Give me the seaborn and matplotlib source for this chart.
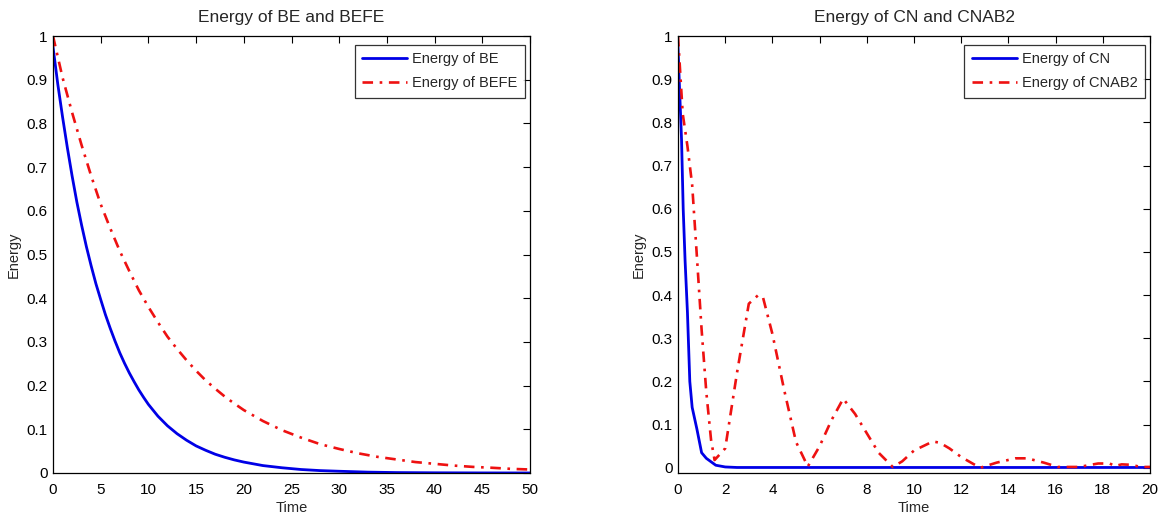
import matplotlib
matplotlib.use("Agg")
import matplotlib.pyplot as plt
import seaborn as sns
import pandas as pd

# Backward Euler vs. BE with forward extrapolation
be_time = [0, 0.5, 1, 1.5, 2, 2.5, 3, 3.5, 4, 4.5, 5, 5.5, 6, 6.5, 7, 7.5, 8, 8.5, 9,
           9.5, 10, 11, 12, 13, 14, 15, 16, 17, 18, 19, 20,
           22, 24, 26, 28, 30, 33, 36, 40, 45, 50]
be_energy = [0.975, 0.89, 0.815, 0.745, 0.68, 0.62, 0.567, 0.518, 0.474, 0.433, 0.397,
             0.362, 0.331, 0.302, 0.275, 0.251, 0.229, 0.209, 0.19, 0.173, 0.157,
             0.13, 0.108, 0.09, 0.075, 0.062, 0.052, 0.043, 0.036, 0.030, 0.025,
             0.017, 0.012, 0.008, 0.0055, 0.004, 0.002, 0.001, 0.0005, 0.0002, 0.0001]

befe_time = [0, 1, 2, 3, 4, 5, 6, 7, 8, 9, 10, 11, 12, 13, 14, 15, 16, 17, 18, 19, 20,
             22, 24, 26, 28, 30, 32, 34, 36, 38, 40, 42, 44, 46, 48, 50]
befe_energy = [1.0, 0.905, 0.825, 0.75, 0.68, 0.615, 0.56, 0.508, 0.462, 0.418, 0.38,
               0.345, 0.312, 0.284, 0.258, 0.234, 0.212, 0.193, 0.175, 0.159, 0.144,
               0.119, 0.098, 0.081, 0.066, 0.055, 0.045, 0.037, 0.031, 0.025, 0.021,
               0.017, 0.014, 0.012, 0.0095, 0.008]

# Crank-Nicolson vs. CN / Adams-Bashforth 2
cn_time = [0, 0.05, 0.15, 0.22, 0.3, 0.4, 0.5, 0.6, 0.8, 1.0, 1.2, 1.6, 2.0, 2.5,
           5, 10, 15, 20]
cn_energy = [0.975, 0.9, 0.76, 0.6, 0.48, 0.36, 0.2, 0.14, 0.09, 0.035, 0.022, 0.006,
             0.002, 0.0008, 0.0008, 0.0008, 0.0008, 0.0008]

cnab2_time = [0, 0.2, 0.4, 0.6, 0.8, 1.0, 1.2, 1.4, 1.55, 2.0, 2.5, 3.0, 3.4, 3.6, 4.0,
              4.5, 5.0, 5.5, 6.0, 6.5, 7.0, 7.5, 8.0, 8.5, 9.1, 9.5, 10.0, 10.8, 11.1,
              11.5, 12.0, 12.8, 13.5, 14.3, 14.8, 15.5, 16.1, 17.0, 17.8, 18.3, 18.5,
              18.8, 19.2, 19.6, 20.0]
cnab2_energy = [1.0, 0.82, 0.745, 0.655, 0.49, 0.32, 0.175, 0.065, 0.018, 0.045, 0.22,
                0.38, 0.40, 0.395, 0.31, 0.18, 0.06, 0.003, 0.05, 0.11, 0.16, 0.125,
                0.08, 0.035, 0.002, 0.015, 0.04, 0.061, 0.058, 0.045, 0.025, 0.0,
                0.012, 0.022, 0.022, 0.012, 0.002, 0.002, 0.01, 0.01, 0.004, 0.008,
                0.007, 0.002, 0.002]

left_xticks = list(range(0, 51, 5))
right_xticks = list(range(0, 21, 2))
yticks = [0, 0.1, 0.2, 0.3, 0.4, 0.5, 0.6, 0.7, 0.8, 0.9, 1]

sns.set_theme(style="white")
plt.rcParams['font.family'] = ['Liberation Sans', 'DejaVu Sans']

W, H = 1164, 520
fig = plt.figure(figsize=(W / 100, H / 100), dpi=100)
ax1 = fig.add_axes([53 / W, 1 - 473 / H, 477 / W, 437 / H])
ax2 = fig.add_axes([678 / W, 1 - 473 / H, 472 / W, 437 / H])

blue = "#0000e6"
red = "#ee1111"
dashdot = (0, (4, 2.5, 1, 2.5))


def draw(ax, t1, e1, lab1, t2, e2, lab2, xlim, xticks, ylim, title, width_px):
    sns.lineplot(data=pd.DataFrame({"t": t1, "e": e1}), x="t", y="e", ax=ax,
                 color=blue, lw=2.0, label=lab1, sort=False, estimator=None)
    sns.lineplot(data=pd.DataFrame({"t": t2, "e": e2}), x="t", y="e", ax=ax,
                 color=red, lw=1.9, linestyle=dashdot, label=lab2, sort=False,
                 estimator=None)
    ax.set_xlim(*xlim)
    ax.set_ylim(*ylim)
    ax.set_xticks(xticks)
    ax.set_xticklabels([f"{v:g}" for v in xticks])
    ax.set_yticks(yticks)
    ax.set_yticklabels([f"{v:g}" for v in yticks])
    ax.tick_params(direction="in", length=5, width=0.8, top=True, right=True,
                   labelsize=11, colors="black")
    ax.tick_params(axis="x", pad=7)
    ax.tick_params(axis="y", pad=4)
    for sp in ax.spines.values():
        sp.set_color("black")
        sp.set_linewidth(0.9)
    ax.set_xlabel("Time", fontsize=10.5, labelpad=3)
    ax.set_ylabel("Energy", fontsize=10.5, labelpad=4)
    ax.set_title(title, fontsize=12.5, pad=10)
    leg = ax.legend(loc="upper right", fontsize=10.5, frameon=True, fancybox=False,
                    bbox_to_anchor=(1 - 5 / width_px, 1 - 9 / 437),
                    borderaxespad=0, handlelength=3.1, borderpad=0.5,
                    labelspacing=0.7, handletextpad=0.35)
    leg.get_frame().set_edgecolor("black")
    leg.get_frame().set_linewidth(0.9)
    ax.grid(False)


draw(ax1, be_time, be_energy, "Energy of BE", befe_time, befe_energy,
     "Energy of BEFE", (0, 50), left_xticks, (0, 1), "Energy of BE and BEFE", 477)
draw(ax2, cn_time, cn_energy, "Energy of CN", cnab2_time, cnab2_energy,
     "Energy of CNAB2", (0, 20), right_xticks, (-0.012, 1),
     "Energy of CN and CNAB2", 472)

fig.savefig("out.png", dpi=100, facecolor="white")
